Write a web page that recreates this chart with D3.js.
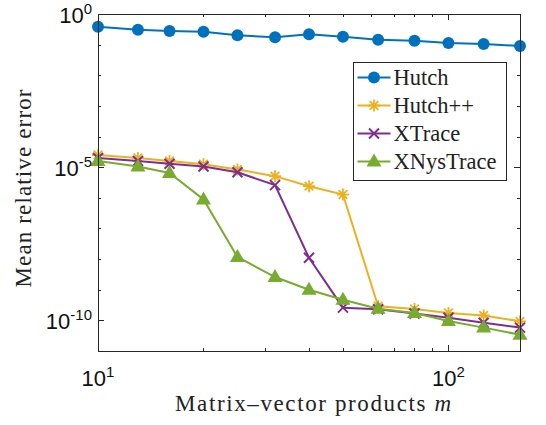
<!DOCTYPE html>
<html>
<head>
<meta charset="utf-8">
<script src="https://cdn.jsdelivr.net/npm/d3@7"></script>
<style>
  body { margin: 0; background: #fff; }
  svg { display: block; }
</style>
</head>
<body>
<svg id="chart"></svg>
<script>
/* DATA */
const products = [10, 13, 16, 20, 25, 32, 40, 50, 63, 80, 100, 126, 160];
const hutch = [0.385, 0.307, 0.278, 0.264, 0.201, 0.173, 0.217, 0.181, 0.145, 0.134, 0.113, 0.105, 0.090];
const hutchpp = [2.5e-5, 2.0e-5, 1.6e-5, 1.25e-5, 8.4e-6, 5.1e-6, 2.4e-6, 1.28e-6, 2.9e-10, 2.35e-10, 1.75e-10, 1.45e-10, 9.3e-11];
const xtrace = [2.0e-5, 1.6e-5, 1.3e-5, 1.05e-5, 6.8e-6, 2.6e-6, 1.1e-8, 2.6e-10, 2.3e-10, 1.68e-10, 1.22e-10, 8.4e-11, 5.8e-11];
const xnystrace = [1.6e-5, 1.05e-5, 6.5e-6, 8.8e-7, 1.17e-8, 2.6e-9, 1.0e-9, 4.7e-10, 2.4e-10, 1.73e-10, 9.5e-11, 5.8e-11, 3.4e-11];
const seriesNames = ["Hutch", "Hutch++", "XTrace", "XNysTrace"];
const yLabelExps = [0, -5, -10];
const xLabelExps = [1, 2];

/* CONSTANTS */
const width = 546, height = 425;
const margin = { top: 14, right: 26, bottom: 74, left: 98 };
const colors = ["#0072BD", "#EDB120", "#7E2F8E", "#77AC30"];
const markers = ["circle", "star", "cross", "triangle"];
const serif = "'Liberation Serif', 'DejaVu Serif', serif";
const sans = "'Liberation Sans', Arial, Helvetica, sans-serif";
const axisColor = "#262626";

const series = [hutch, hutchpp, xtrace, xnystrace].map((vals, i) => ({
  name: seriesNames[i],
  color: colors[i],
  marker: markers[i],
  points: vals.map((v, j) => ({ m: products[j], v: v }))
}));

const svg = d3.select("#chart")
  .attr("width", width)
  .attr("height", height);

const x = d3.scaleLog()
  .domain([10, 160])
  .range([margin.left, width - margin.right]);

const y = d3.scaleLog()
  .domain([1e-11, 1])
  .range([height - margin.bottom, margin.top]);

const x0 = x.range()[0], x1 = x.range()[1];
const y0 = y.range()[0], y1 = y.range()[1];

// draw a marker shape into a group
function drawMarker(g, type, color) {
  if (type === "circle") {
    g.append("circle").attr("r", 6).attr("fill", color);
  } else if (type === "star") {
    const p = "M-6,0L6,0M0,-6L0,6M-4.3,-4.3L4.3,4.3M-4.3,4.3L4.3,-4.3";
    g.append("path").attr("d", p).attr("stroke", color).attr("stroke-width", 1.8).attr("fill", "none");
  } else if (type === "cross") {
    g.append("path").attr("d", "M-5,-5L5,5M-5,5L5,-5")
      .attr("stroke", color).attr("stroke-width", 2).attr("fill", "none");
  } else {
    g.append("path").attr("d", "M0,-8L7.5,5L-7.5,5Z").attr("fill", color);
  }
}

// ticks inside the box (MATLAB style)
const yMinor = d3.range(-11, 1).map(e => Math.pow(10, e));
const yMajor = yLabelExps.map(e => Math.pow(10, e));
const xMinor = x.ticks().filter(d => d > 10 && d < 160);
const xMajor = xLabelExps.map(e => Math.pow(10, e)).filter(d => d <= 160);

const ticks = svg.append("g").attr("stroke", axisColor).attr("stroke-width", 1);
yMinor.forEach(d => {
  const len = yMajor.includes(d) ? 6 : 3;
  const yy = Math.round(y(d)) + 0.5;
  ticks.append("line").attr("x1", x0).attr("x2", x0 + len).attr("y1", yy).attr("y2", yy);
  ticks.append("line").attr("x1", x1).attr("x2", x1 - len).attr("y1", yy).attr("y2", yy);
});
xMinor.concat(xMajor).forEach(d => {
  const len = xMajor.includes(d) ? 6 : 3;
  const xx = Math.round(x(d)) + 0.5;
  ticks.append("line").attr("x1", xx).attr("x2", xx).attr("y1", y0).attr("y2", y0 - len);
  ticks.append("line").attr("x1", xx).attr("x2", xx).attr("y1", y1).attr("y2", y1 + len);
});

// series lines and markers
const line = d3.line().x(d => x(d.m)).y(d => y(d.v));
const plot = svg.append("g");
series.forEach(s => {
  plot.append("path")
    .datum(s.points)
    .attr("d", line)
    .attr("fill", "none")
    .attr("stroke", s.color)
    .attr("stroke-width", 2);
  s.points.forEach(p => {
    const g = plot.append("g").attr("transform", `translate(${x(p.m)},${y(p.v)})`);
    drawMarker(g, s.marker, s.color);
  });
});

// axis box
svg.append("rect")
  .attr("x", x0 + 0.5)
  .attr("y", y1 + 0.5)
  .attr("width", x1 - x0)
  .attr("height", y0 - y1)
  .attr("fill", "none")
  .attr("stroke", axisColor)
  .attr("stroke-width", 1);

// tick labels with superscripts
yLabelExps.forEach(e => {
  const t = svg.append("text")
    .attr("x", x0 - 6)
    .attr("y", y(Math.pow(10, e)) + 9)
    .attr("text-anchor", "end")
    .attr("font-family", sans)
    .attr("font-size", 22)
    .attr("fill", "#111");
  t.append("tspan").text("10");
  t.append("tspan").attr("dy", -9).attr("font-size", 15).text(e);
});
xLabelExps.forEach(e => {
  const t = svg.append("text")
    .attr("x", x(Math.pow(10, e)))
    .attr("y", 386)
    .attr("text-anchor", "middle")
    .attr("font-family", sans)
    .attr("font-size", 22)
    .attr("fill", "#111");
  t.append("tspan").text("10");
  t.append("tspan").attr("dy", -9).attr("font-size", 15).text(e);
});

// axis labels
const xl = svg.append("text")
  .attr("x", (x0 + x1) / 2 + 4)
  .attr("y", 411)
  .attr("text-anchor", "middle")
  .attr("font-family", serif)
  .attr("font-size", 23)
  .attr("textLength", 276)
  .attr("lengthAdjust", "spacing")
  .attr("fill", "#222");
xl.append("tspan").text("Matrix\u2013vector products ");
xl.append("tspan").attr("font-style", "italic").text("m");

svg.append("text")
  .attr("transform", `translate(31,${(y0 + y1) / 2 + 6}) rotate(-90)`)
  .attr("text-anchor", "middle")
  .attr("font-family", serif)
  .attr("font-size", 23)
  .attr("textLength", 198)
  .attr("lengthAdjust", "spacing")
  .attr("fill", "#222")
  .text("Mean relative error");

// legend
const legend = svg.append("g").attr("transform", "translate(353.5,62.5)");
legend.append("rect")
  .attr("width", 153)
  .attr("height", 118)
  .attr("fill", "#fff")
  .attr("stroke", axisColor)
  .attr("stroke-width", 1);
series.forEach((s, i) => {
  const row = legend.append("g").attr("transform", `translate(0,${15 + i * 28})`);
  row.append("line").attr("x1", 4).attr("x2", 37).attr("stroke", s.color).attr("stroke-width", 2);
  drawMarker(row.append("g").attr("transform", "translate(20.5,0)"), s.marker, s.color);
  row.append("text")
    .attr("x", 40)
    .attr("y", 7.5)
    .attr("font-family", serif)
    .attr("font-size", 22.5)
    .attr("fill", "#222")
    .text(s.name);
});
</script>
</body>
</html>
